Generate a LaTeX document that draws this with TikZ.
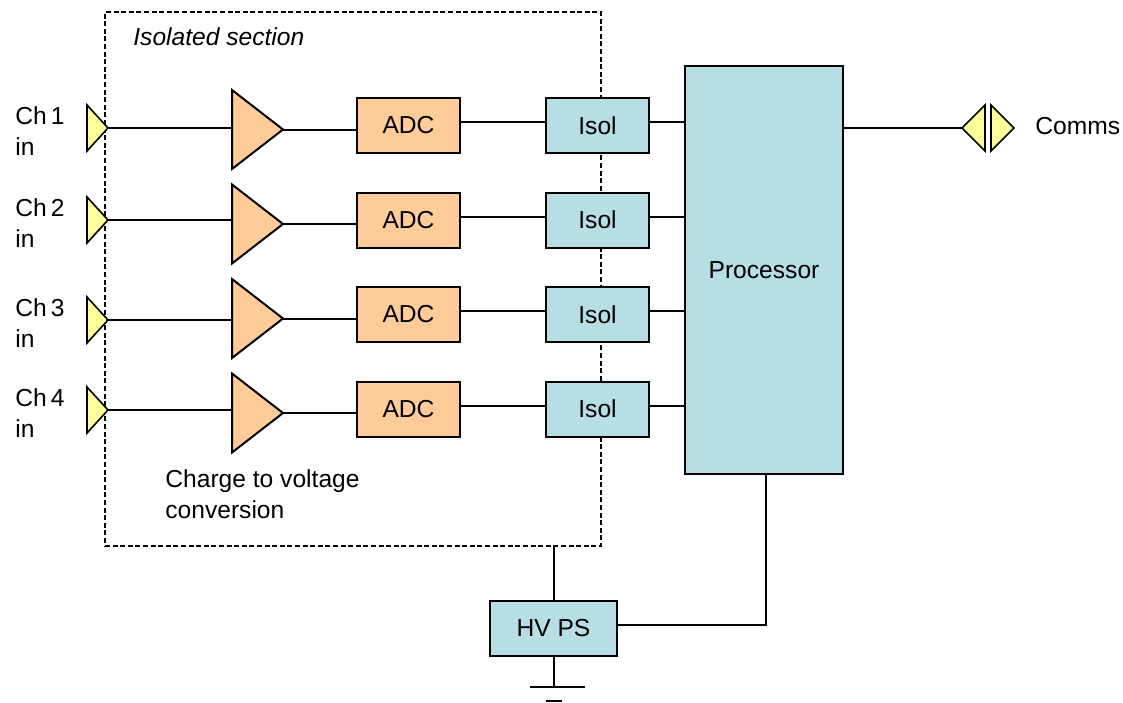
\documentclass[tikz,border=0pt]{standalone}
\usepackage{fontspec}
\setmainfont{Liberation Sans}
\definecolor{ora}{HTML}{FFCC99}
\definecolor{blu}{HTML}{B7DEE2}
\definecolor{yel}{HTML}{FFFF99}
\begin{document}
\begin{tikzpicture}[x=0.5pt,y=-0.5pt,
  wire/.style={line width=1pt},
  txt/.style={font=\fontsize{12.3}{15.5}\selectfont},
  blk/.style={draw, line width=1pt, minimum width=51.5pt, minimum height=27.5pt, inner sep=0pt, txt},
  adcbox/.style={blk, fill=ora},
  isobox/.style={blk, fill=blu},
  lbl/.style={txt, inner sep=0pt, align=left},
  conn/.style={draw, fill=yel, line width=0.8pt, line join=miter},
  amptri/.style={draw, fill=ora, line width=1pt, line join=miter},
  isoarea/.style={draw, dash pattern=on 2.5pt off 1.3pt, line width=0.75pt, inner sep=0pt},
]
\useasboundingbox (0,0) rectangle (1123,702);
% isolated section
\node[isoarea, minimum width=248pt, minimum height=267pt] (iso) at (353,279) {};
\node[lbl, anchor=base west, font=\fontsize{12.3}{15.5}\selectfont\itshape] (isot) at (133,45.7) {Isolated section};
% processor
\node[blk, fill=blu, minimum width=79pt, minimum height=204pt] (proc) at (764,270) {Processor};
% channels
\foreach \i/\yin/\yr in {1/128/0, 2/220/94.5, 3/320/189, 4/410/283.5}{
  \coordinate (in\i) at (108,\yin);
  \coordinate (ampin\i) at (232,\yin);
  \coordinate (amp\i) at (283,129.5+\yr);
  \node[adcbox] (adc\i) at (408.5,125.5+\yr) {ADC};
  \node[isobox] (isol\i) at (597.5,125.5+\yr) {Isol};
  \draw[wire] (in\i) -- (ampin\i);
  \draw[amptri] (232,90+\yr) -- (amp\i) -- (232,169+\yr) -- cycle;
  \draw[wire] (amp\i) -- (amp\i -| adc\i.west);
  \draw[wire] ([yshift=1.75pt]adc\i.east) -- ([yshift=1.75pt]isol\i.west);
  \draw[wire] ([yshift=1.75pt]isol\i.east) -- ([yshift=1.75pt]isol\i.east -| proc.west);
  \draw[conn] (87,\yin-23) -- (in\i) -- (87,\yin+23) -- cycle;
  \node[lbl, anchor=base west] (lab\i) at (15,\yin+27) {Ch\,\i\\in};
}
\node[lbl, anchor=base west] (cvt) at (165,518.3) {Charge to voltage\\conversion};
% comms
\coordinate (cm) at (962,128);
\draw[wire] (proc.east |- cm) -- (cm);
\draw[conn] (cm) -- (985,105) -- (985,151) -- cycle;
\draw[conn] (991,105) -- (1014,128) -- (991,151) -- cycle;
\node[lbl, anchor=west] (comms) at (1035,126) {Comms};
% HV PS
\node[blk, fill=blu, minimum width=63.5pt] (hv) at (553.5,628.5) {HV PS};
\draw[wire] (hv.north) -- (hv.north |- iso.south);
\draw[wire] ([yshift=2pt]hv.east) -| ([xshift=1pt]proc.south);
\coordinate (gnd) at (553.5,687);
\draw[wire] (hv.south) -- (gnd);
\draw[wire] (530,687) -- (585,687);
\draw[wire] (546,701) -- (562,701);
\end{tikzpicture}
\end{document}
